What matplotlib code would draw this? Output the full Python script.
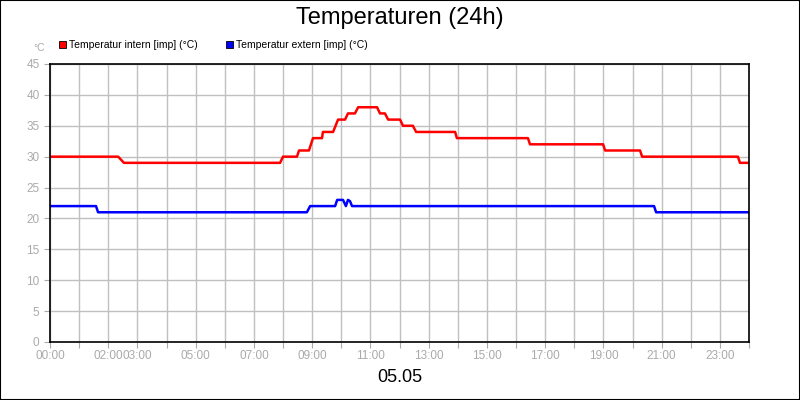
import matplotlib
matplotlib.use("Agg")
import matplotlib.pyplot as plt
from matplotlib.patches import Rectangle

plt.rcParams["font.family"] = "Liberation Sans"

title = "Temperaturen (24h)"
xlabel = "05.05"
unit = "°C"
series_names = ["Temperatur intern [imp] (°C)", "Temperatur extern [imp] (°C)"]
colors = ["#ff0000", "#0000ff"]

intern_t = [0, 2.34, 2.54, 7.90, 8.00, 8.48, 8.55, 8.89, 9.03, 9.34, 9.37, 9.72, 9.89, 10.13, 10.23, 10.47,
            10.58, 11.23, 11.33, 11.50, 11.61, 12.02, 12.12, 12.46, 12.57, 13.91, 13.97, 16.41, 16.48,
            18.99, 19.06, 20.26, 20.33, 23.62, 23.69, 24.0]
intern_v = [30, 30, 29, 29, 30, 30, 31, 31, 33, 33, 34, 34, 36, 36, 37, 37,
            38, 38, 37, 37, 36, 36, 35, 35, 34, 34, 33, 33, 32,
            32, 31, 31, 30, 30, 29, 29]
extern_t = [0, 1.58, 1.65, 8.82, 8.93, 9.79, 9.86, 10.06, 10.16, 10.23, 10.30, 10.37, 20.74, 20.81, 24.0]
extern_v = [22, 22, 21, 21, 22, 22, 23, 23, 22, 23, 22.8, 22, 22, 21, 21]

tick_pos = [0, 2, 3, 5, 7, 9, 11, 13, 15, 17, 19, 21, 23]
tick_labels = ["00:00", "02:00", "03:00", "05:00", "07:00", "09:00", "11:00", "13:00", "15:00",
               "17:00", "19:00", "21:00", "23:00"]
y_ticks = list(range(0, 46, 5))

fig = plt.figure(figsize=(8, 4), dpi=100)
fig.patches.append(Rectangle((0, 0), 1, 1, transform=fig.transFigure, fill=False,
                             edgecolor="black", linewidth=1.5))
ax = fig.add_axes([50/800, 58/400, 699/800, 278/400])
ax.plot(intern_t, intern_v, color=colors[0], lw=1.8)
ax.plot(extern_t, extern_v, color=colors[1], lw=1.8)
ax.set_xlim(0, 24)
ax.set_ylim(0, 45)
ax.xaxis.remove_overlapping_locs = False
ax.set_xticks(range(0, 25), minor=False)
ax.set_xticklabels([""] * 25)
ax.set_xticks(tick_pos, minor=True)
ax.set_xticklabels(tick_labels, minor=True)
ax.tick_params(axis="x", which="minor", length=0, pad=6, labelsize=8.5, labelcolor="#aaaaaa")
ax.tick_params(axis="x", which="major", length=4, color="#aaaaaa")
ax.set_yticks(y_ticks)
ax.tick_params(axis="y", length=4, color="#aaaaaa", labelsize=8.5, labelcolor="#aaaaaa")
ax.grid(True, which="major", color="#c0c0c0", lw=1)
ax.set_axisbelow(True)
for s in ax.spines.values():
    s.set_linewidth(1.2)
fig.text(0.5, 1 - 18/400, title, ha="center", va="center", fontsize=17)
fig.text(0.5, 1 - 378/400, xlabel, ha="center", va="center", fontsize=13)
fig.text(45/800, 1 - 48/400, unit, ha="right", va="center", fontsize=7.5, color="#aaaaaa")
lx = [59, 226]
for x, name, c in zip(lx, series_names, colors):
    fig.patches.append(Rectangle((x/800, 1 - 48/400), 7/800, 7/400, transform=fig.transFigure,
                                 facecolor=c, edgecolor="black", lw=0.6))
    fig.text((x + 10)/800, 1 - 44.5/400, name, ha="left", va="center", fontsize=7.5)
fig.savefig("out.png", dpi=100)
